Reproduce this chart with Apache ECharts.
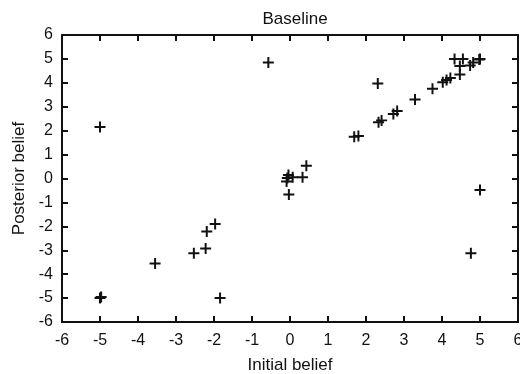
<!DOCTYPE html>
<html>
<head>
<meta charset="utf-8">
<script src="https://cdn.jsdelivr.net/npm/echarts@6/dist/echarts.min.js"></script>
<style>
  html, body { margin: 0; padding: 0; background: #fff; }
  #chart { width: 520px; height: 374px; }
</style>
</head>
<body>
<div id="chart"></div>
<script>
// 初始信念 (x)
const initialBelief = [
  -5, -0.57, 2.31, 3.29, 3.75, 4.02, 4.12, 4.22, 4.33, 4.55, 4.47, 4.47, 4.74, 4.82, 5, 4.98, 5,
  1.69, 1.8, 2.33, 2.41, 2.72, 2.82,
  0.43, 0.33, 0.07, -0.04, -0.07, -0.09, -0.03,
  -5, -4.97, -3.55, -2.53, -2.22, -2.19, -1.97, -1.84, 4.76
];
// 后验信念 (y)
const posteriorBelief = [
  2.15, 4.85, 3.97, 3.3, 3.75, 4.02, 4.12, 4.2, 5.0, 5.0, 4.7, 4.35, 4.72, 4.85, 5, 4.98, -0.48,
  1.75, 1.78, 2.35, 2.43, 2.7, 2.82,
  0.53, 0.05, 0.05, 0.15, 0.02, -0.13, -0.67,
  -5, -4.95, -3.55, -3.13, -2.93, -2.22, -1.9, -5, -3.13
];
const axisTicks = [-6, 6, 1];

const points = initialBelief.map((x, i) => [x, posteriorBelief[i]]);

const ink = '#111';
const font = 'Liberation Sans, Arial, sans-serif';
const plus = 'path://M4.1,0h1.8v4.1h4.1v1.8h-4.1v4.1h-1.8v-4.1h-4.1v-1.8h4.1z';

const baseAxis = {
  type: 'value',
  min: axisTicks[0],
  max: axisTicks[1],
  interval: axisTicks[2],
  splitLine: { show: false },
  axisLine: { show: true, onZero: false, lineStyle: { color: ink, width: 2 } },
  axisTick: { show: true, inside: true, length: 6, lineStyle: { color: ink, width: 2 } },
  axisLabel: { color: ink, fontSize: 16, fontFamily: font }
};

var myChart = echarts.init(document.getElementById('chart'));
var option = {
  animation: false,
  title: {
    text: 'Baseline',
    left: 290,
    textAlign: 'center',
    top: 6,
    textStyle: { color: ink, fontSize: 17, fontWeight: 'normal', fontFamily: font }
  },
  grid: { left: 62, right: 2, top: 35, bottom: 52, outerBoundsMode: 'none' },
  xAxis: [
    Object.assign({}, baseAxis, {
      position: 'bottom',
      name: 'Initial belief',
      nameLocation: 'middle',
      nameGap: 35,
      nameTextStyle: { color: ink, fontSize: 17, fontFamily: font },
      axisLabel: Object.assign({}, baseAxis.axisLabel, { margin: 11 })
    }),
    Object.assign({}, baseAxis, { position: 'top', axisLabel: { show: false } })
  ],
  yAxis: [
    Object.assign({}, baseAxis, {
      position: 'left',
      name: 'Posterior belief',
      nameLocation: 'middle',
      nameGap: 29,
      nameTextStyle: { color: ink, fontSize: 17, fontFamily: font },
      axisLabel: Object.assign({}, baseAxis.axisLabel, { margin: 9 })
    }),
    Object.assign({}, baseAxis, { position: 'right', axisLabel: { show: false } })
  ],
  series: [
    {
      type: 'scatter',
      data: points,
      symbol: plus,
      symbolSize: 11,
      itemStyle: { color: ink, opacity: 1 }
    }
  ]
};
option && myChart.setOption(option);
</script>
</body>
</html>
